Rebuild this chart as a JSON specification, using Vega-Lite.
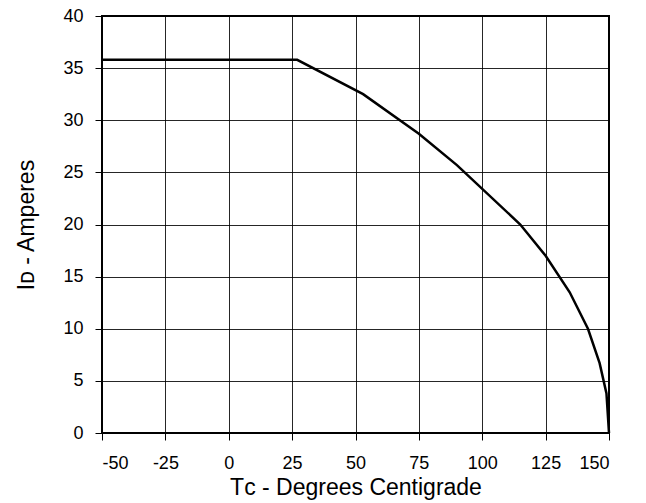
{
  "$schema": "https://vega.github.io/schema/vega-lite/v6.json",
  "width": 507,
  "height": 417,
  "autosize": "none",
  "padding": {"left": 102, "top": 16, "right": 37, "bottom": 70},
  "background": "white",
  "config": {
    "font": "Liberation Sans",
    "view": {"stroke": "black", "strokeWidth": 2},
    "axis": {
      "grid": true,
      "gridColor": "#000000",
      "gridOpacity": 0.85,
      "gridWidth": 1,
      "domain": false,
      "ticks": true,
      "tickColor": "#000000",
      "tickSize": 7,
      "tickWidth": 1,
      "labelColor": "#000000",
      "labelFontSize": 18,
      "labelExpr": "datum.value + ''",
      "titleColor": "#000000",
      "titleFontSize": 23,
      "titleFontWeight": "normal"
    }
  },
  "data": {
    "values": [
      {"tc": -50, "id": 35.8},
      {"tc": 27, "id": 35.8},
      {"tc": 53, "id": 32.5},
      {"tc": 75, "id": 28.7},
      {"tc": 90, "id": 25.7},
      {"tc": 115, "id": 20.0},
      {"tc": 125, "id": 17.0},
      {"tc": 134.5, "id": 13.5},
      {"tc": 141.7, "id": 10.0},
      {"tc": 146.3, "id": 6.7},
      {"tc": 149, "id": 3.8},
      {"tc": 150, "id": 0}
    ]
  },
  "mark": {"type": "line", "color": "black", "strokeWidth": 2.5},
  "encoding": {
    "x": {
      "field": "tc",
      "type": "quantitative",
      "scale": {"domain": [-50, 150], "nice": false, "zero": false},
      "axis": {
        "title": "Tᴄ - Degrees Centigrade",
        "values": [-50, -25, 0, 25, 50, 75, 100, 125, 150],
        "labelPadding": 14,
        "titlePadding": 4
      }
    },
    "y": {
      "field": "id",
      "type": "quantitative",
      "scale": {"domain": [0, 40], "nice": false},
      "axis": {
        "title": "Iᴅ - Amperes",
        "values": [0, 5, 10, 15, 20, 25, 30, 35, 40],
        "labelPadding": 12,
        "titlePadding": 24
      }
    }
  }
}
